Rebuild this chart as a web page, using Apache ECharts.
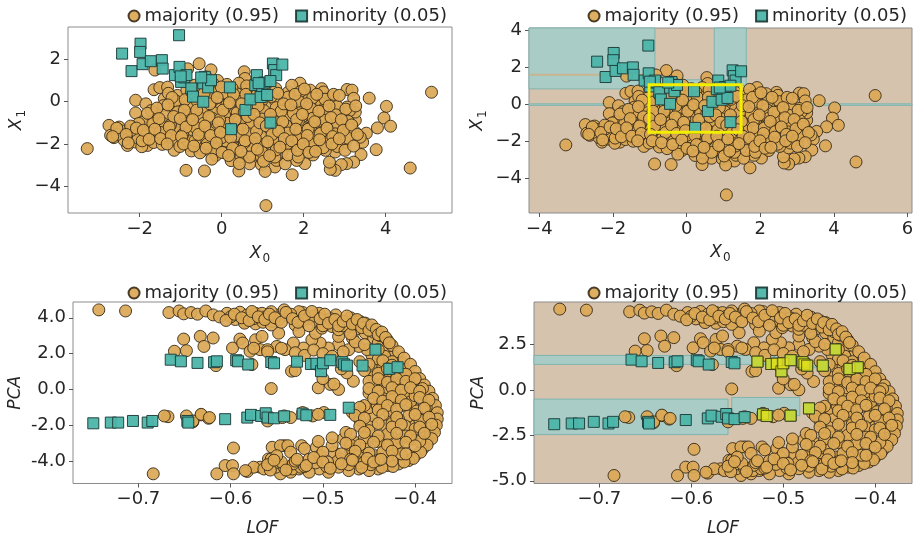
<!DOCTYPE html>
<html><head><meta charset="utf-8">
<script src="https://cdn.jsdelivr.net/npm/echarts@6/dist/echarts.min.js"></script>
<style>html,body{margin:0;padding:0;background:#fff}#c{width:917px;height:538px}</style>
</head><body><div id="c"></div>
<script>
// ---------- DATA ----------
const legendNames = ['majority (0.95)', 'minority (0.05)'];

// feature space (X0, X1)
const majorityXY = [
[-3.28,-2.22],[-2.75,-1.12],[-2.71,-1.59],[-2.63,-1.7],[-2.5,-1.2],[-2.42,-1.51],[-2.26,-1.67],[-2.3,-2.07],[-2.18,-1.2],[-2.06,-1.51],[-1.81,-1.2],[-1.89,-1.75],[-2.1,-1.91],[-1.81,-2.07],[-1.61,-1.67],[-1.57,-1.2],[-1.4,-1.83],[-1.32,-1.36],[-2.1,0.07],[-2.1,-0.53],[-1.85,-0.1],[-1.61,-0.57],[-1.69,-0.88],[-1.93,-0.96],[-1.65,0.57],[-1.51,0.67],[-1.63,1.5],[-1.32,0.69],[-1.08,0.3],[-1.4,0.15],[-1.2,-0.33],[-0.95,-0.25],[-1.16,-0.8],[-0.91,-1.04],[-1.08,-1.51],[-0.83,-1.67],[-0.79,-2.07],[-1.16,-2.3],[-0.87,-3.25],[-0.42,-3.28],[-0.55,1.8],[-0.83,1.56],[-0.26,1.51],[-0.38,1.17],[-0.1,1.01],[-0.67,0.78],[-0.42,0.54],[-0.18,0.3],[-0.06,0.62],[-0.55,-0.1],[-0.67,-0.57],[-0.34,-0.57],[-0.02,-0.33],[-0.55,-1.2],[-0.26,-0.96],[0.06,-1.2],[-0.38,-1.67],[-0.18,-2.07],[-0.46,-2.3],[-0.14,-2.54],[0.06,-2.15],[0.23,-2.79],[0.42,-3.28],[0.47,-2.62],[0.68,-2.94],[0.76,-2.54],[0.31,-2.07],[0.55,-1.67],[0.8,-1.99],[0.39,-1.36],[0.64,-1.04],[0.31,-0.73],[0.47,-0.25],[0.23,0.07],[0.68,0.15],[0.8,0.69],[0.55,1.42],[0.57,1.1],[0.39,0.46],[0.23,-0.5],[0.06,0.38],
[5.12,0.45],[4.6,-3.14],[1.08,-4.92],[1.91,0.88],[2.44,0.62],[2.48,0.46],[2.69,0.23],[3.06,0.58],[3.18,0.55],[3.22,0.16],[3.6,0.17],[4.02,-0.22],[3.96,-0.77],[4.12,-1.16],[3.8,-1.24],[3.53,-1.49],[3.77,-2.27],[3.44,-1.92],[3.4,-2.5],[3.22,-2.86],[3.05,-2.93],[2.92,-2.98],[2.77,-3.25],[2.65,-3.2],[2.63,-2.86],[2.03,-2.93],[1.72,-3.46],[1.83,-2.78],[1.3,-3.09],[0.97,-2.98],[1.34,-2.78],[2.77,-2.38],[2.85,-1.99],[2.69,-1.51],[3.26,-1.44],[3.38,-1.68],[3.26,-0.88],[3.02,-0.73],[3.26,-0.49],[3.06,-0.25],[2.77,-0.09],[2.44,-0.64],[2.32,0.15],[2.16,0.55],[2.04,0.31],[1.63,0.46],[1.3,0.23],[1.06,0.39],[1.71,0.78],[2.44,-0.09],[2.61,-1.04],[2.28,-1.36],[2.04,-1.04],[1.79,-1.68],[1.63,-2.07],[1.55,-1.2],[1.3,-0.73],[1.87,-0.41],[2.24,-0.64],[2.57,-1.75],[2.24,-2.23],[1.87,-2.46],[1.47,-2.38],[1.14,-2.15],[1.55,-2.94],[1.3,-2.62],[1.06,-3.3],[0.97,-2.62],[1.14,-1.36],[1.06,-0.73],[0.89,-0.09],[1.18,-0.25],[1.42,-0.73],[1.79,-1.2],[2.12,-1.68],[2.36,-1.2],[2.85,-1.2],[2.93,-0.57],[2.53,-0.25],[2.12,-0.25],[1.79,0.07],[1.5,-0.17],[1.3,-1.68],[1.95,-1.92],[2.53,-2.3],[3.02,-1.92],[1.63,-1.6],[1.95,-0.73],[2.2,-1.04],
[-2.45,-1.38],[-2.38,-1.82],[-2.02,-1.03],[-1.97,-1.41],[-2.04,-1.72],[-1.95,-2.13],[-1.72,-0.42],[-1.68,-1.04],[-1.74,-1.48],[-1.66,-1.93],[-1.42,-0.18],[-1.38,-0.63],[-1.44,-1.02],[-1.36,-1.54],[-1.45,-2.02],[-1.12,0.04],[-1.07,-0.48],[-1.13,-0.93],[-1.05,-1.27],[-1.12,-1.82],[-1.02,-2.12],[-0.78,0.32],[-0.82,-0.17],[-0.76,-0.63],[-0.84,-1.02],[-0.77,-1.38],[-0.83,-1.84],[-0.74,-2.33],[-0.48,0.63],[-0.53,0.18],[-0.46,-0.32],[-0.51,-0.79],[-0.44,-1.02],[-0.52,-1.53],[-0.47,-1.88],[-0.53,-2.42],[-0.22,0.88],[-0.17,0.47],[-0.24,0.02],[-0.19,-0.52],[-0.23,-0.78],[-0.16,-1.32],[-0.22,-1.71],[-0.18,-2.24],[-0.24,-2.72],[0.13,0.82],[0.08,0.42],[0.12,-0.18],[0.07,-0.63],[0.14,-1.02],[0.09,-1.52],[0.12,-1.88],[0.08,-2.42],[0.42,0.88],[0.37,0.38],[0.43,0.02],[0.38,-0.52],[0.44,-0.88],[0.36,-1.22],[0.42,-1.62],[0.38,-2.22],[0.43,-2.93],[0.72,0.58],[0.67,0.22],[0.73,-0.32],[0.68,-0.68],[0.72,-1.12],[0.66,-1.52],[0.73,-2.12],[0.68,-2.62],[1.02,0.52],[0.97,0.02],[1.03,-0.42],[0.98,-0.82],[1.02,-1.18],[0.96,-1.62],[1.03,-2.02],[0.98,-2.38],[1.02,-2.82],[1.32,0.62],[1.28,0.12],[1.33,-0.28],[1.27,-0.92],[1.32,-1.32],[1.28,-1.92],[1.33,-2.28],[1.62,0.22],[1.58,-0.32],[1.63,-0.68],[1.57,-1.12],[1.62,-1.48],[1.58,-2.02],[1.62,-2.52],[1.92,0.48],[1.88,0.02],[1.93,-0.52],[1.87,-0.92],[1.92,-1.38],[1.88,-1.78],[1.93,-2.22],[1.87,-2.62],[2.22,0.18],[2.18,-0.32],[2.23,-0.78],[2.17,-1.22],[2.22,-1.62],[2.18,-2.02],[2.23,-2.52],[2.52,0.12],[2.48,-0.42],[2.53,-0.88],[2.47,-1.42],[2.52,-1.88],[2.48,-2.18],[2.82,-0.22],[2.78,-0.62],[2.83,-1.08],[2.77,-1.52],[2.82,-2.12],[3.12,-0.42],[3.08,-0.92],[3.13,-1.28],[3.07,-1.72],
[-2.55,-1.55],[-2.2,-1.35],[-1.85,-1.6],[-1.5,-1.45],[-1.25,-1.1],[-0.95,-1.55],[-0.65,-1.2],[-0.3,-1.45],[0.0,-1.7],[0.25,-1.3],[-0.65,-1.85],[-0.35,-2.0],[0.55,-1.95],[0.85,-1.4],[1.15,-1.0],[1.45,-0.45],[1.75,-0.55],[-0.05,-0.85],[-0.35,0.25],[0.25,0.65],[0.85,0.3],[0.55,-0.5],[-0.85,0.55],[-1.3,0.4],
[-2.56,-1.25],[-2.66,-1.65],[-2.22,-1.15],[-2.33,-1.55],[-2.28,-1.95],[-2.08,-1.25],[-1.94,-1.85],[-1.81,-0.55],[-1.91,-1.35],[-1.77,-1.78],[-1.58,-0.3],[-1.53,-0.8],[-1.63,-1.3],[-1.49,-1.75],[-1.21,0.2],[-1.31,-0.15],[-1.17,-0.7],[-1.28,-1.2],[-1.23,-1.6],[-1.33,-2.0],[-0.89,0.1],[-0.91,-0.4],[-1.01,-0.8],[-0.87,-1.2],[-0.98,-1.65],[-0.93,-2.0],[-0.73,0.45],[-0.59,0.0],[-0.61,-0.4],[-0.71,-0.85],[-0.57,-1.55],[-0.68,-2.1],[-0.33,0.75],[-0.43,0.4],[-0.29,-0.1],[-0.31,-0.7],[-0.41,-1.15],[-0.27,-1.6],[-0.38,-2.2],[-0.01,0.7],[-0.11,0.2],[0.03,-0.4],[-0.08,-1.0],[-0.03,-1.45],[-0.13,-1.95],[0.01,-2.4],[0.29,0.35],[0.19,-0.05],[0.33,-0.85],[0.22,-1.7],[0.27,-2.2],[0.17,-2.55],[0.61,0.75],[0.59,0.35],[0.49,-0.1],[0.63,-0.7],[0.52,-1.3],[0.57,-1.85],[0.47,-2.35],[0.91,0.7],[0.89,-0.2],[0.79,-0.6],[0.93,-1.0],[0.82,-1.75],[0.87,-2.25],[1.07,0.8],[1.21,0.25],[1.19,-0.6],[1.09,-1.15],[1.23,-1.55],[1.12,-1.9],[1.17,-2.55],[1.37,0.4],[1.51,-0.1],[1.49,-0.95],[1.39,-1.4],[1.53,-1.75],[1.42,-2.15],[1.79,0.35],[1.69,-0.15],[1.83,-0.85],[1.81,-1.3],[1.71,-1.85],[1.85,-2.3],[2.02,0.6],[2.07,-0.1],[1.97,-0.6],[2.11,-1.3],[2.09,-1.6],[1.99,-2.0],[2.13,-2.4],[2.32,0.35],[2.37,-0.45],[2.27,-0.95],[2.41,-1.5],[2.39,-1.8],[2.29,-2.35],[2.73,0.35],[2.62,-0.2],[2.67,-0.75],[2.57,-1.25],[2.71,-1.65],[2.69,-2.0],[2.87,0.3],[3.03,-0.35],[2.92,-0.85],[2.97,-1.35],[2.87,-1.75],[3.01,-2.3],[3.27,-0.2],[3.17,-1.1],[3.31,-1.55],[3.22,-2.1]
];
const minorityXY = [
[-2.43,2.28],[-1.98,2.75],[-1.99,2.36],[-2.2,1.45],[-1.93,1.78],[-1.73,1.92],[-1.46,1.97],[-1.44,1.57],[-1.04,3.15],[-1.14,1.26],[-1.03,1.65],[-0.99,0.94],[-0.91,1.15],[-0.86,1.26],[-1.0,1.2],[-0.74,0.63],[-0.7,0.24],[-0.45,0.0],[-0.41,1.18],[-0.45,0.87],[-0.33,0.68],[-0.26,1.02],[-0.5,1.15],[0.2,0.68],[0.23,-1.3],[0.58,-0.39],[0.7,0.11],[0.82,0.79],[0.86,1.26],[0.99,0.6],[0.95,0.22],[1.11,0.32],[1.04,0.91],[1.19,-0.99],[1.25,1.81],[1.28,1.5],[1.33,1.26],[1.48,1.76],[1.19,0.98],[0.9,0.88]
];

// outlier space (LOF, PCA)
const majorityLP = [
[-0.743,4.44],[-0.714,4.38],[-0.667,4.29],[-0.656,4.38],[-0.651,4.22],[-0.643,4.29],[-0.636,4.2],[-0.627,4.38],[-0.619,4.16],[-0.604,4.25],[-0.598,4.1],[-0.59,4.31],[-0.582,4.16],[-0.573,4.25],[-0.568,4.1],[-0.586,3.79],[-0.573,3.66],
[-0.651,2.81],[-0.633,2.96],[-0.619,2.87],[-0.629,2.4],[-0.661,2.13],[-0.648,2.16],[-0.598,2.31],[-0.59,2.81],[-0.587,2.59],[-0.573,2.77],[-0.579,2.13],[-0.568,2.22],[-0.616,1.33],[-0.577,1.39],
[-0.668,-1.52],[-0.632,-1.42],[-0.624,-1.61],[-0.641,-1.81],[-0.597,-3.27],[-0.684,-4.71],[-0.615,-4.71],[-0.606,-4.25],[-0.598,-4.25],[-0.597,-4.71],[-0.582,-4.58],[-0.568,-4.34],
[-0.566,4.25],[-0.555,3.79],[-0.548,4.16],[-0.537,4.07],[-0.53,3.6],[-0.522,4.3],[-0.515,3.97],[-0.506,3.7],[-0.497,3.88],[-0.49,3.51],[-0.481,3.7],[-0.472,3.51],[-0.465,3.33],[-0.461,3.6],[-0.454,3.14],[-0.445,2.87],[-0.44,2.59],[-0.431,2.22],[-0.424,1.85],[-0.418,1.48],[-0.411,1.11],[-0.405,0.74],[-0.4,0.37],[-0.394,0],[-0.389,-0.37],[-0.383,-0.74],[-0.38,-1.11],[-0.378,-1.48],[-0.378,-1.85],[-0.38,-2.22],[-0.383,-2.59],[-0.387,-2.96],[-0.392,-3.33],[-0.4,-3.7],[-0.407,-3.97],[-0.418,-4.16],[-0.429,-4.25],[-0.44,-4.44],[-0.45,-4.53],[-0.461,-4.44],[-0.472,-4.53],[-0.483,-4.34],[-0.494,-4.62],[-0.504,-4.44],[-0.515,-4.62],[-0.526,-4.44],[-0.535,-4.62],[-0.546,-4.71],[-0.551,-4.34],[-0.559,-3.88],[-0.555,-3.23],[-0.542,-3.14],[-0.523,-3.14],[-0.507,-3.23],[-0.503,-3.7],[-0.488,-3.51],[-0.481,-3.88],[-0.47,-3.42],[-0.461,-3.7],[-0.454,-3.23],[-0.443,-2.77],[-0.465,-2.96],[-0.478,-2.77],[-0.49,-3.14],[-0.45,-2.4],[-0.447,-1.94],[-0.445,-1.48],[-0.45,-1.02],[-0.441,-0.92],[-0.432,-0.55],[-0.44,-0.37],[-0.431,-0.09],[-0.443,0.18],[-0.434,0.46],[-0.445,1.02],[-0.441,1.48],[-0.447,1.94],[-0.452,2.22],[-0.461,2.4],[-0.472,2.22],[-0.483,2.5],[-0.494,2.31],[-0.503,2.59],[-0.512,2.77],[-0.521,2.31],[-0.532,2.59],[-0.541,2.22],[-0.55,2.4],[-0.56,2.22],[-0.566,2.96],[-0.548,3.14],[-0.526,3.23],[-0.508,3.14],[-0.483,2.96],[-0.468,2.87],[-0.534,1.02],[-0.505,0.09],[-0.492,0.28],[-0.483,0],[-0.556,0.05],[-0.467,0.46],[-0.474,0.92],
[-0.426,0.55],[-0.418,0.18],[-0.422,-0.37],[-0.411,-0.18],[-0.404,-0.55],[-0.415,-0.92],[-0.4,-1.11],[-0.407,-1.48],[-0.393,-1.48],[-0.4,-2.03],[-0.389,-2.03],[-0.411,-2.03],[-0.418,-1.66],[-0.427,-1.48],[-0.432,-2.03],[-0.426,-2.59],[-0.415,-2.77],[-0.404,-2.77],[-0.396,-2.4],[-0.418,-3.33],[-0.432,-3.14],[-0.429,-3.7],[-0.443,-3.7],[-0.422,1.29],[-0.429,1.02],[-0.418,0.74],[-0.433,1.85],[-0.44,2.22],[-0.414,1.48],
[-0.483,3.33],[-0.501,3.42],[-0.447,3.42],[-0.454,3.7],[-0.468,3.88],[-0.486,4.16],[-0.504,4.25],[-0.526,4.34],[-0.542,4.44],[-0.556,4.34],
[-0.595,3.9],[-0.585,3.7],[-0.575,3.95],[-0.565,3.75],[-0.556,3.6],[-0.6,4.05],
[-0.575,2.3],[-0.56,2.1],[-0.545,2.3],[-0.53,2.05],[-0.52,1.9],[-0.51,2.2],[-0.5,2.0],[-0.49,1.85],[-0.478,2.1],[-0.53,1.05],[-0.505,1.35],[-0.48,1.15],[-0.5,0.6],[-0.488,0.3],
[-0.672,-1.48],[-0.648,-1.48],[-0.641,-1.76],[-0.632,-1.39],[-0.623,-1.57],[-0.56,-1.76],[-0.542,-1.48],[-0.535,-1.57],[-0.522,-1.29],[-0.511,-1.48],[-0.499,-1.29],[-0.468,-1.29],[-0.461,-1.29],[-0.544,-1.57],[-0.505,-1.39],
[-0.546,-3.14],[-0.538,-3.14],[-0.556,-3.88],[-0.549,-4.07],[-0.542,-4.34],[-0.533,-4.44],[-0.524,-4.34],[-0.575,-4.34],[-0.564,-4.44],[-0.584,-4.53],
[-0.562,4.05],[-0.548,3.9],[-0.535,4.2],[-0.522,3.85],[-0.51,4.1],[-0.5,3.55],[-0.492,3.95],[-0.478,3.55],[-0.47,4.0],[-0.46,3.8],[-0.452,3.5],[-0.445,3.2],[-0.438,3.0],[-0.43,2.75],[-0.425,2.45],[-0.418,2.1],[-0.412,1.75],[-0.405,1.4],[-0.4,1.0],[-0.395,0.6],[-0.39,0.25],[-0.385,-0.1],[-0.381,-0.5],[-0.378,-0.9],[-0.376,-1.3],[-0.376,-1.65],[-0.377,-2.0],[-0.379,-2.4],[-0.382,-2.75],[-0.387,-3.1],[-0.394,-3.5],[-0.402,-3.85],[-0.412,-4.05],[-0.424,-4.3],[-0.436,-4.35],[-0.448,-4.2],[-0.46,-4.1],[-0.472,-4.2],[-0.484,-4.0],[-0.496,-4.3],[-0.508,-4.1],[-0.52,-4.3],[-0.532,-4.15],[-0.545,-4.05],[-0.557,-4.5],
[-0.415,0.3],[-0.41,-0.2],[-0.405,-0.7],[-0.398,-1.2],[-0.395,-1.7],[-0.4,-2.2],[-0.41,-2.6],[-0.42,-3.0],[-0.43,-2.5],[-0.425,-1.9],[-0.43,-1.2],[-0.425,-0.6],[-0.43,0.1],[-0.42,0.9],[-0.435,1.3],[-0.445,0.7],[-0.45,-0.2],[-0.455,-0.9],[-0.46,-1.7],[-0.45,-2.3],[-0.44,-2.9],[-0.435,-3.5],[-0.415,-3.6],[-0.395,-2.9],[-0.388,-1.0],[-0.392,0.05],[-0.4,-0.35],[-0.465,2.65],[-0.47,3.1],[-0.455,2.5],[-0.44,1.7],[-0.425,1.55],
[-0.475,-2.4],[-0.49,-2.7],[-0.505,-2.9],[-0.52,-3.3],[-0.535,-3.5],[-0.55,-3.7],[-0.47,-3.1],[-0.455,-2.7],
[-0.612,4.05],[-0.605,3.85],[-0.596,4.2],[-0.588,4.0],[-0.58,3.85],[-0.577,4.35],[-0.57,4.05],[-0.563,3.9],[-0.558,4.2],[-0.552,4.0],[-0.545,3.75],[-0.54,4.3],[-0.533,3.95],[-0.527,3.75],[-0.52,4.1],[-0.515,3.55],[-0.512,4.35],[-0.503,3.95],[-0.498,4.2],[-0.494,3.7],[-0.487,3.9],[-0.483,3.55],[-0.478,3.8],[-0.474,4.1],[-0.468,3.65],[-0.463,3.9],[-0.458,3.45],[-0.456,3.7],[-0.45,3.3],[-0.447,3.6],[-0.442,3.35],[-0.44,3.05],[-0.436,3.2],[-0.432,2.9],[-0.428,2.6],
[-0.46,1.55],[-0.45,1.4],[-0.435,1.6],[-0.425,1.35],[-0.455,1.05],[-0.44,0.9],[-0.43,1.15],[-0.42,1.0],[-0.41,0.85],[-0.45,0.45],[-0.44,0.6],[-0.43,0.4],[-0.42,0.6],[-0.41,0.45],[-0.4,0.6],[-0.45,0.05],[-0.44,-0.1],[-0.425,0.1],[-0.415,-0.05],[-0.405,0.1],[-0.395,-0.1],[-0.445,-0.5],[-0.435,-0.65],[-0.425,-0.4],[-0.415,-0.6],[-0.395,-0.45],[-0.385,-0.6],[-0.46,-1.0],[-0.44,-1.15],[-0.43,-0.9],[-0.42,-1.1],[-0.41,-0.85],[-0.39,-1.05],[-0.465,-1.45],[-0.455,-1.6],[-0.435,-1.4],[-0.42,-1.55],[-0.4,-1.4],[-0.385,-1.55],[-0.46,-2.05],[-0.44,-1.9],[-0.425,-2.1],[-0.415,-1.95],[-0.395,-2.1],[-0.382,-1.95],[-0.47,-2.5],[-0.455,-2.4],[-0.44,-2.6],[-0.42,-2.45],[-0.405,-2.6],[-0.39,-2.45],[-0.475,-3.0],[-0.46,-3.1],[-0.445,-2.95],[-0.43,-3.1],[-0.41,-2.95],[-0.4,-3.15],[-0.5,-3.5],[-0.48,-3.6],[-0.465,-3.45],[-0.45,-3.55],[-0.425,-3.45],[-0.41,-3.6],[-0.53,-4.0],[-0.515,-3.9],[-0.495,-4.05],[-0.47,-3.9],[-0.455,-4.05],[-0.44,-3.95],[-0.425,-4.0],
[-0.56,-4.2],[-0.553,-3.95],[-0.54,-4.5],[-0.528,-3.9],[-0.518,-4.25],[-0.51,-3.8],[-0.5,-4.05],[-0.492,-4.4],[-0.48,-4.15],[-0.468,-3.95],[-0.458,-4.35],[-0.452,-3.85],[-0.445,-4.05],[-0.437,-3.9]
];
const minorityLP = [
[-0.665,1.66],[-0.654,1.57],[-0.636,1.48],[-0.618,1.52],[-0.615,1.57],[-0.594,1.63],[-0.592,1.57],[-0.581,1.39],[-0.556,1.53],[-0.553,1.46],[-0.528,1.55],[-0.513,1.42],[-0.507,1.44],[-0.502,1.02],[-0.5,1.46],[-0.492,1.63],[-0.479,1.52],[-0.477,1.4],[-0.474,1.33],[-0.457,1.33],[-0.443,2.22],[-0.428,1.15],[-0.419,1.24],
[-0.749,-1.89],[-0.73,-1.85],[-0.722,-1.85],[-0.706,-1.76],[-0.69,-1.85],[-0.685,-1.76],[-0.647,-1.76],[-0.646,-1.85],[-0.606,-1.66],[-0.582,-1.57],[-0.578,-1.42],[-0.567,-1.48],[-0.562,-1.33],[-0.56,-1.57],[-0.553,-1.61],[-0.542,-1.5],[-0.522,-1.35],[-0.518,-1.44],[-0.492,-1.42],[-0.472,-1.02]
];
// minority points flagged in the LOF/PCA panel (LOF above this value)
const flaggedLOF = -0.535;

// decision regions: [xmin, ymin, xmax, ymax]
const regionsXY = [[-4.4,0.81,-0.86,4.3],[0.75,1.0,1.62,4.3],[-0.86,1.02,0.75,1.3],[-4.4,-0.08,6.2,0.0]];
const boundaryLinesXY = [[-4.4,-0.86,1.57]]; // [x1, x2, y]
const boxXY = [[-1.02,-1.53,1.48,1.03]];
const regionsLP = [[-0.8,1.4,-0.48,1.89],[-0.48,1.21,-0.415,1.3],[-0.8,-2.46,-0.56,-0.51],[-0.556,-1.42,-0.482,-0.42]];

// ticks
const ticksX0a = [-2,0,2,4], ticksX1a = [-4,-2,0,2];
const ticksX0b = [-4,-2,0,2,4,6], ticksX1b = [-4,-2,0,2,4];
const ticksLOF = [-0.7,-0.6,-0.5,-0.4];
const ticksPCAa = [-4,-2,0,2,4], ticksPCAb = [-5,-2.5,0,2.5];

// ---------- CHART ----------
const FONT = 'DejaVu Sans';
const TXT = '#262626';
const MAJ = '#dba855', MAJ_EDGE = '#3a2e1a';
const MIN = '#4db5aa', MIN_EDGE = '#1e3d3a';
const BG = '#d6c3ae', REG = '#a9ccc7', REG_EDGE = '#7fb4ad';

const minus = v => v < 0 ? '\u2212' + Math.abs(v) : String(v);
const minus1 = v => v < 0 ? '\u2212' + Math.abs(v).toFixed(1) : v.toFixed(1);
const hyph1 = v => v.toFixed(1);

const grids = [
  {left:68, top:27, width:384, height:186},
  {left:529, top:28, width:383, height:185},
  {left:73, top:302, width:379, height:183},
  {left:534, top:302, width:378, height:183}
].map((g,i) => Object.assign(g, {show:true, borderColor:'#8c8c8c', borderWidth:1,
  backgroundColor: (i===1||i===3) ? BG : '#ffffff'}));

function axisBase(ticks, fmt) {
  return {
    type:'value', scale:true,
    axisLine:{show:false, onZero:false},
    splitLine:{show:false},
    axisTick:{show:true, length:4, lineStyle:{color:'#555'}, customValues:ticks},
    axisLabel:{customValues:ticks, formatter:fmt, fontSize:18, fontFamily:FONT, color:TXT, margin:7},
    nameLocation:'middle',
    nameTextStyle:{color:TXT, fontFamily:FONT}
  };
}
const rich = {
  i:{fontStyle:'italic', fontSize:17, fontFamily:FONT, color:TXT, lineHeight:22},
  s:{fontSize:12, fontFamily:FONT, color:TXT, padding:[9,0,0,1], lineHeight:22}
};
const xAxes = [
  Object.assign(axisBase(ticksX0a, minus), {gridIndex:0, min:-3.75, max:5.62, name:'{i|X}{s|0}', nameGap:30}),
  Object.assign(axisBase(ticksX0b, minus), {gridIndex:1, min:-4.28, max:6.12, name:'{i|X}{s|0}', nameGap:29}),
  Object.assign(axisBase(ticksLOF, minus1), {gridIndex:2, min:-0.771, max:-0.36, name:'{i|LOF}', nameGap:34}),
  Object.assign(axisBase(ticksLOF, minus1), {gridIndex:3, min:-0.771, max:-0.36, name:'{i|LOF}', nameGap:34})
];
const yAxes = [
  Object.assign(axisBase(ticksX1a, minus), {gridIndex:0, min:-5.27, max:3.54, name:'{i|X}{s|1}', nameGap:40}),
  Object.assign(axisBase(ticksX1b, minus), {gridIndex:1, min:-5.9, max:4.1, name:'{i|X}{s|1}', nameGap:40}),
  Object.assign(axisBase(ticksPCAa, hyph1), {gridIndex:2, min:-5.25, max:4.88, name:'{i|PCA}', nameGap:46}),
  Object.assign(axisBase(ticksPCAb, hyph1), {gridIndex:3, min:-5.15, max:4.83, name:'{i|PCA}', nameGap:44})
];
xAxes.concat(yAxes).forEach(a => { a.nameTextStyle.rich = rich; });

function rectRenderer(fill, stroke, lw) {
  return function(params, api) {
    const a = api.coord([api.value(0), api.value(1)]);
    const b = api.coord([api.value(2), api.value(3)]);
    const cs = params.coordSys;
    const shape = echarts.graphic.clipRectByRect(
      {x:Math.min(a[0],b[0]), y:Math.min(a[1],b[1]), width:Math.abs(a[0]-b[0]), height:Math.abs(a[1]-b[1])},
      {x:cs.x, y:cs.y, width:cs.width, height:cs.height});
    if (!shape) return;
    return {type:'rect', shape:shape, style:{fill:fill, stroke:stroke, lineWidth:lw}};
  };
}
function hlineRenderer(color, lw) {
  return function(params, api) {
    const a = api.coord([api.value(0), api.value(2)]);
    const b = api.coord([api.value(1), api.value(2)]);
    const cs = params.coordSys;
    return {type:'line', shape:{x1:Math.max(a[0],cs.x), y1:a[1], x2:Math.min(b[0],cs.x+cs.width), y2:b[1]}, style:{stroke:color, lineWidth:lw}};
  };
}

function majSeries(i, data) {
  return {type:'scatter', name:legendNames[0], xAxisIndex:i, yAxisIndex:i, data:data, symbol:'circle', symbolSize:12, z:3,
    itemStyle:{color:MAJ, borderColor:MAJ_EDGE, borderWidth:1, opacity:0.92}};
}
function minSeries(i, data) {
  return {type:'scatter', name:legendNames[1], xAxisIndex:i, yAxisIndex:i, data:data, symbol:'rect', symbolSize:11, z:4,
    itemStyle:{color:MIN, borderColor:MIN_EDGE, borderWidth:1, opacity:0.95}};
}

const flaggedPts = minorityLP.filter(p => p[0] > flaggedLOF);

const series = [
  {type:'custom', name:'regions', xAxisIndex:1, yAxisIndex:1, data:regionsXY, encode:{x:[0,2], y:[1,3]}, z:1, silent:true,
    renderItem:rectRenderer(REG, REG_EDGE, 1)},
  {type:'custom', name:'bounds', xAxisIndex:1, yAxisIndex:1, data:boundaryLinesXY, encode:{x:[0,1], y:2}, z:1, silent:true,
    renderItem:hlineRenderer('#c8b590', 2)},
  {type:'custom', name:'regionsLP', xAxisIndex:3, yAxisIndex:3, data:regionsLP, encode:{x:[0,2], y:[1,3]}, z:1, silent:true,
    renderItem:rectRenderer(REG, REG_EDGE, 1)},
  majSeries(0, majorityXY), minSeries(0, minorityXY),
  majSeries(1, majorityXY), minSeries(1, minorityXY),
  majSeries(2, majorityLP), minSeries(2, minorityLP),
  majSeries(3, majorityLP), minSeries(3, minorityLP),
  {type:'scatter', name:'flagged', xAxisIndex:3, yAxisIndex:3, data:flaggedPts, symbol:'rect', symbolSize:11, z:5,
    itemStyle:{color:'#dede1e', borderColor:'#3a3a10', borderWidth:1}},
  {type:'custom', name:'box', xAxisIndex:1, yAxisIndex:1, data:boxXY, encode:{x:[0,2], y:[1,3]}, z:6, silent:true,
    renderItem:rectRenderer('rgba(0,0,0,0)', '#f2ee00', 3)}
];

function legendAt(top, right) {
  return {top:top, right:right, orient:'horizontal', itemWidth:11, itemHeight:11, itemGap:16, selectedMode:false,
    textStyle:{fontSize:18, fontFamily:FONT, color:TXT},
    data:[{name:legendNames[0], icon:'circle'}, {name:legendNames[1], icon:'rect'}]};
}

const chart = echarts.init(document.getElementById('c'), null, {renderer:'canvas'});
chart.setOption({
  animation:false,
  backgroundColor:'#ffffff',
  textStyle:{fontFamily:FONT},
  grid:grids, xAxis:xAxes, yAxis:yAxes,
  legend:[legendAt(2,465), legendAt(2,5), legendAt(279,465), legendAt(279,5)],
  series:series
});
</script></body></html>
